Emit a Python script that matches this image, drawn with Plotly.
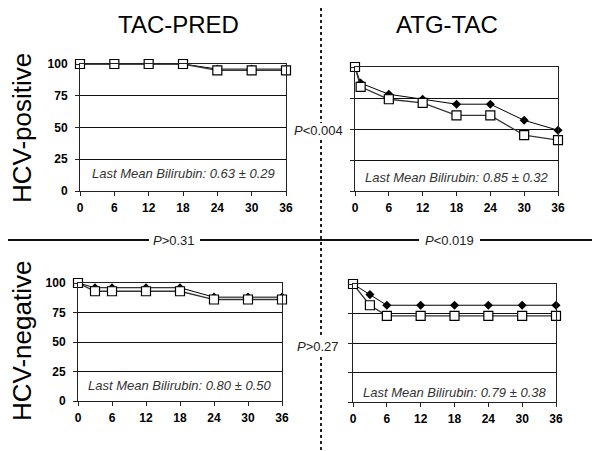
import plotly.graph_objects as go

# ---- data ----
tp_pos_months = [0, 6, 12, 18, 24, 30, 36]
tp_pos_diamond = [100, 100, 100, 100, 96, 96, 96]
tp_pos_square = [100, 100, 100, 100, 95, 95, 95]

at_pos_months = [0, 1, 6, 12, 18, 24, 30, 36]
at_pos_diamond = [100, 87, 78, 74, 70, 70, 57, 49]
at_pos_square = [100, 84, 74, 71, 61, 61, 45, 41]

tp_neg_months = [0, 3, 6, 12, 18, 24, 30, 36]
tp_neg_diamond = [100, 96, 96, 96, 96, 88, 88, 88]
tp_neg_square = [100, 93, 93, 93, 93, 86, 86, 86]

at_neg_months = [0, 3, 6, 12, 18, 24, 30, 36]
at_neg_diamond = [100, 91, 82, 82, 82, 82, 82, 82]
at_neg_square = [100, 82, 73, 73, 73, 73, 73, 73]

x_ticks = [0, 6, 12, 18, 24, 30, 36]
y_ticks = [0, 25, 50, 75, 100]

col_titles = ["TAC-PRED", "ATG-TAC"]
row_titles = ["HCV-positive", "HCV-negative"]
bilirubin = ["Last Mean Bilirubin: 0.63 ± 0.29", "Last Mean Bilirubin: 0.85 ± 0.32",
             "Last Mean Bilirubin: 0.80 ± 0.50", "Last Mean Bilirubin: 0.79 ± 0.38"]
bili_y = [14, 11, 13, 8]
p_texts = ["<i>P</i><0.004", "<i>P</i>>0.31", "<i>P</i><0.019", "<i>P</i>>0.27"]

panels = [
    (tp_pos_months, tp_pos_diamond, tp_pos_square),
    (at_pos_months, at_pos_diamond, at_pos_square),
    (tp_neg_months, tp_neg_diamond, tp_neg_square),
    (at_neg_months, at_neg_diamond, at_neg_square),
]

# page body margin offsets the figure by 8px; lay out in window pixels
OFF = 8
W, H = 600 - OFF, 451 - OFF
def fx(p):
    return (p - OFF) / W
def fy(p):
    return 1 - (p - OFF) / H
def px_x(a, b):
    return [fx(a), fx(b)]
def px_y(top, bottom):
    return [fy(bottom), fy(top)]

domains = [
    (px_x(80, 286), px_y(64, 191)),
    (px_x(355, 558), px_y(67, 191)),
    (px_x(78, 282), px_y(283, 401)),
    (px_x(353, 556), px_y(284, 402)),
]

fig = go.Figure()
layout = dict(
    template="none",
    width=W, height=H, margin=dict(l=0, r=0, t=0, b=0, pad=0),
    paper_bgcolor="white", plot_bgcolor="white", showlegend=False,
    font=dict(family="Liberation Sans, Arial, sans-serif", color="black"),
)

annotations = []
for i, (months, dia, sq) in enumerate(panels):
    n = i + 1
    xa = "x" if n == 1 else f"x{n}"
    ya = "y" if n == 1 else f"y{n}"
    fig.add_trace(go.Scatter(x=months, y=dia, xaxis=xa, yaxis=ya, mode="lines+markers",
                             line=dict(color="black", width=1),
                             marker=dict(symbol="diamond", size=7, color="black"),
                             cliponaxis=False))
    fig.add_trace(go.Scatter(x=months, y=sq, xaxis=xa, yaxis=ya, mode="lines+markers",
                             line=dict(color="#333", width=1.3),
                             marker=dict(symbol="square", size=9, color="white",
                                         line=dict(color="black", width=1.2)),
                             cliponaxis=False))
    xd, yd = domains[i]
    layout["xaxis" if n == 1 else f"xaxis{n}"] = dict(
        domain=xd, anchor=ya, range=[0, 36], tickvals=x_ticks, automargin=False,
        showgrid=False, zeroline=False, showline=True, linecolor="#222", linewidth=1,
        mirror=True, ticks="outside", ticklen=4, tickcolor="#222", ticklabelstandoff=2,
        tickfont=dict(size=12, weight="bold", color="black"))
    layout["yaxis" if n == 1 else f"yaxis{n}"] = dict(
        domain=yd, anchor=xa, range=[0, 100], tickvals=y_ticks, automargin=False,
        showgrid=True, gridcolor="#111", gridwidth=1, zeroline=False,
        showline=True, linecolor="#222", linewidth=1, mirror=True,
        ticks="outside", ticklen=4, tickcolor="#222",
        showticklabels=(i % 2 == 0), ticklabelstandoff=5,
        tickfont=dict(size=12, weight="bold", color="black"))
    annotations.append(dict(x=18, y=bili_y[i], xref=xa, yref=ya,
                            text=f"<i>{bilirubin[i]}</i>", showarrow=False,
                            xanchor="center", yanchor="middle",
                            font=dict(size=13, color="#333")))

def paper_note(text, px, py, size, angle=0, color="black"):
    return dict(x=fx(px), y=fy(py), xref="paper", yref="paper", text=text,
                showarrow=False, xanchor="center", yanchor="middle", textangle=angle,
                font=dict(size=size, color=color))

annotations.append(paper_note(col_titles[0], 178, 25, 24))
annotations.append(paper_note(col_titles[1], 447, 25, 24))
annotations.append(paper_note(row_titles[0], 22, 128, 26, angle=-90))
annotations.append(paper_note(row_titles[1], 22, 341, 26, angle=-90))

p_pos = [(318, 131), (174, 241), (449, 241), (318, 346)]
for t, (px, py) in zip(p_texts, p_pos):
    annotations.append(paper_note(t, px, py, 13, color="#222"))

layout["annotations"] = annotations

# divider lines
shapes = []
for (a, b) in [(8, 123), (140, 336), (357, 451)]:
    shapes.append(dict(type="line", xref="paper", yref="paper", x0=fx(321), x1=fx(321),
                       y0=fy(a), y1=fy(b), line=dict(color="#222", width=2, dash="dot")))
for (a, b) in [(8, 149), (200, 419), (480, 593)]:
    shapes.append(dict(type="line", xref="paper", yref="paper", x0=fx(a), x1=fx(b),
                       y0=fy(240), y1=fy(240), line=dict(color="#111", width=2)))
layout["shapes"] = shapes

fig.update_layout(**layout)
fig.write_html("out.html")
